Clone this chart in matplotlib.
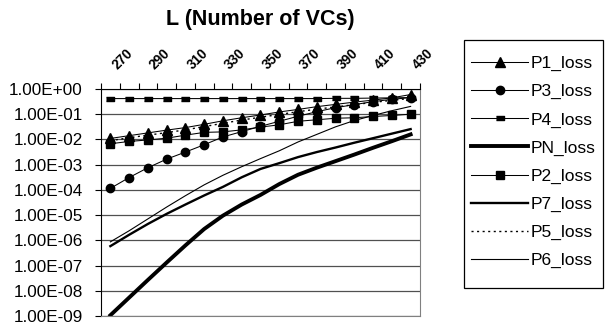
import numpy as np
import matplotlib
matplotlib.use('Agg')
import matplotlib.pyplot as plt
import matplotlib.transforms as mtransforms
from matplotlib.patches import Rectangle

plt.rcParams['font.family'] = ['Liberation Sans', 'DejaVu Sans']

# number of VCs (categories)
L = [270, 280, 290, 300, 310, 320, 330, 340, 350, 360, 370, 380, 390, 400, 410, 420, 430]
xlabels = ['270', '290', '310', '330', '350', '370', '390', '410', '430']

# loss values (log10)
p1_log = [-1.96, -1.85, -1.74, -1.63, -1.53, -1.40, -1.26, -1.14, -1.03, -0.91, -0.81, -0.70, -0.61, -0.52, -0.44, -0.35, -0.22]
p3_log = [-3.94, -3.51, -3.12, -2.78, -2.50, -2.21, -1.90, -1.69, -1.48, -1.28, -1.08, -0.90, -0.74, -0.62, -0.50, -0.41, -0.34]
p4_log = [-0.38, -0.38, -0.38, -0.38, -0.38, -0.38, -0.38, -0.38, -0.38, -0.38, -0.38, -0.38, -0.37, -0.37, -0.36, -0.35, -0.34]
pn_log = [-8.97, -8.27, -7.57, -6.88, -6.20, -5.55, -5.02, -4.58, -4.20, -3.77, -3.40, -3.12, -2.86, -2.60, -2.33, -2.07, -1.80]
p2_log = [-2.17, -2.08, -2.02, -1.95, -1.83, -1.72, -1.70, -1.62, -1.51, -1.42, -1.28, -1.22, -1.16, -1.14, -1.09, -1.05, -1.00]
p7_log = [-6.23, -5.78, -5.35, -4.95, -4.58, -4.22, -3.88, -3.50, -3.17, -2.94, -2.70, -2.50, -2.32, -2.13, -1.95, -1.77, -1.59]
p5_log = [-2.05, -1.93, -1.83, -1.73, -1.62, -1.49, -1.36, -1.23, -1.12, -1.01, -0.90, -0.80, -0.71, -0.62, -0.53, -0.45, -0.37]
p6_log = [-6.06, -5.62, -5.15, -4.68, -4.23, -3.80, -3.42, -3.08, -2.76, -2.45, -2.10, -1.80, -1.50, -1.25, -1.05, -0.86, -0.69]

def pw(a):
    return 10.0 ** np.array(a)

W, H = 607, 329
fig = plt.figure(figsize=(W / 100, H / 100), dpi=100)
ax = fig.add_axes([101/W, 1 - 316/H, 319/W, 227/H])

dash = [(-1.4, -0.8), (1.4, -0.8), (1.4, 0.8), (-1.4, 0.8)]
ax.plot(L, pw(p1_log), color='black', lw=0.75, marker='^', ms=6.5, label='P1_loss')
ax.plot(L, pw(p3_log), color='black', lw=0.75, marker='o', ms=6, label='P3_loss')
ax.plot(L, pw(p4_log), color='black', lw=0.75, marker=dash, ms=6, label='P4_loss')
ax.plot(L, pw(pn_log), color='black', lw=2.8, label='PN_loss')
ax.plot(L, pw(p2_log), color='black', lw=0.75, marker='s', ms=5.5, label='P2_loss')
ax.plot(L, pw(p7_log), color='black', lw=1.7, label='P7_loss')
ax.plot(L, pw(p5_log), color='black', lw=1.0, ls=(0, (1.5, 2.5)), label='P5_loss')
ax.plot(L, pw(p6_log), color='black', lw=0.8, label='P6_loss')

ax.set_yscale('log')
ax.set_ylim(1e-9, 1)
ax.set_xlim(265, 435)
decades = [10.0 ** -k for k in range(10)]
ax.set_yticks(decades)
ax.set_yticklabels([f'{v:.2E}' for v in decades], fontsize=12.3)
ax.yaxis.set_minor_locator(matplotlib.ticker.NullLocator())
ax.grid(axis='y', color='#505050', lw=0.9)
ax.tick_params(axis='y', direction='out', length=4, width=0.8, pad=9)

ax.xaxis.tick_top()
ax.set_xticks(np.arange(265, 436, 10))
ax.set_xticklabels([])
ax.tick_params(axis='x', direction='out', length=4, width=0.8)

off = mtransforms.offset_copy(ax.get_xaxis_transform(), fig=fig, x=9, y=17, units='dots')
for v, t in zip(L[::2], xlabels):
    ax.text(v, 1.0, t, transform=off, rotation=45, rotation_mode='anchor',
            ha='left', va='bottom', fontsize=9.8, fontweight='bold')

for s in ['left', 'top']:
    ax.spines[s].set_color('black')
for s in ['right', 'bottom']:
    ax.spines[s].set_color('#808080')

fig.text(260.5/W, 1 - 19/H, 'L (Number of VCs)', ha='center', va='center',
         fontsize=15.5, fontweight='bold')

# legend box
fig.patches.append(Rectangle((464/W, 1 - 288/H), 139/W, 248/H, transform=fig.transFigure,
                             fill=False, edgecolor='black', lw=0.9))
fig.legend(*ax.get_legend_handles_labels(), loc='upper left',
           bbox_to_anchor=(471/W, 1 - 56/H), fontsize=12.5,
           handlelength=3.3, handletextpad=0.12, labelspacing=0.74,
           borderpad=0, borderaxespad=0, frameon=False)

fig.savefig('out.png', dpi=100)
